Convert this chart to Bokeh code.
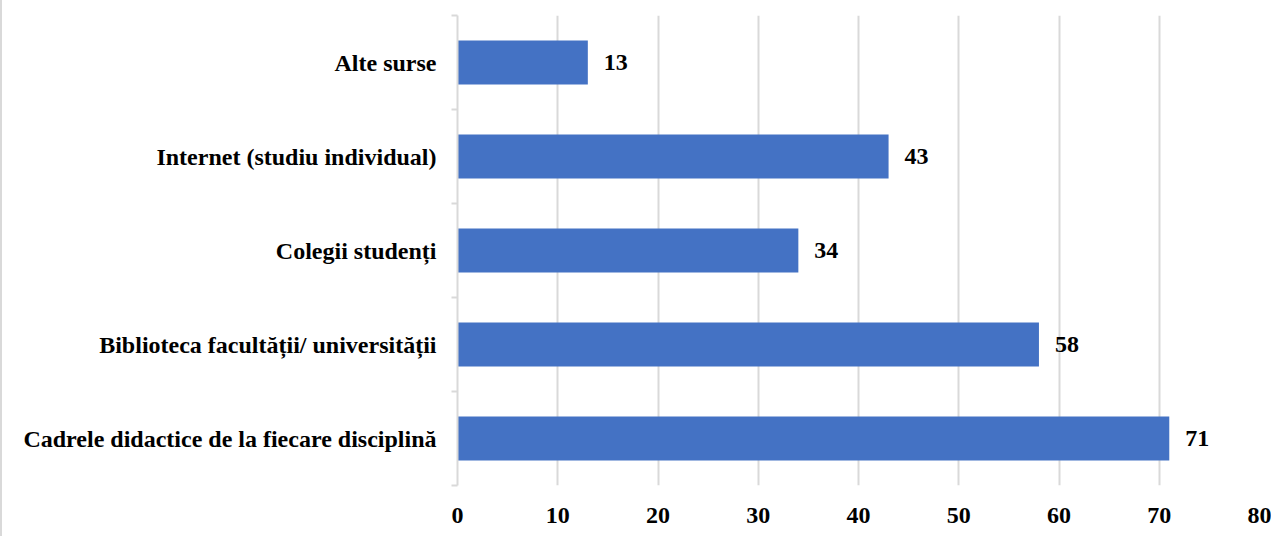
from bokeh.plotting import figure
from bokeh.models import Range1d, FixedTicker, ColumnDataSource, LabelSet
from bokeh.embed import file_html
from bokeh.resources import INLINE

categories = [
    "Cadrele didactice de la fiecare disciplină",
    "Biblioteca facultății/ universității",
    "Colegii studenți",
    "Internet (studiu individual)",
    "Alte surse",
]
values = [71, 58, 34, 43, 13]
x_ticks = [0, 10, 20, 30, 40, 50, 60, 70, 80]

FONT = "Liberation Serif"
GRID = "#d9d9d9"
BAR = "#4472C4"

ypos = [i + 0.5 for i in range(len(categories))]
src = ColumnDataSource(dict(y=ypos, v=values, lab=[str(v) for v in values]))

p = figure(width=1271, height=536, output_backend="svg", toolbar_location=None,
           x_range=Range1d(0, 80), y_range=Range1d(0, len(categories)),
           min_border_left=455, min_border_right=14, min_border_top=15, min_border_bottom=51)
p.styles = {"border-left": "2px solid #d9d9d9"}
p.outline_line_color = None
p.background_fill_color = "white"
p.border_fill_color = "white"

p.hbar(y="y", right="v", left=0, height=0.47, source=src, color=BAR, line_color=None)

labels = LabelSet(x="v", y="y", text="lab", source=src, x_offset=16, text_align="left",
                  text_baseline="middle", text_font=FONT, text_font_style="bold",
                  text_font_size="24px", text_color="black")
p.add_layout(labels)

# x axis
p.xaxis.ticker = FixedTicker(ticks=x_ticks)
p.xaxis.axis_line_color = None
p.xaxis.major_tick_line_color = None
p.xaxis.minor_tick_line_color = None
p.xaxis.major_tick_out = 0
p.xaxis.major_label_standoff = 22
p.xaxis.major_label_text_font = FONT
p.xaxis.major_label_text_font_style = "bold"
p.xaxis.major_label_text_font_size = "24px"
p.xaxis.major_label_text_color = "black"

# y axis
p.yaxis.ticker = FixedTicker(ticks=ypos, minor_ticks=list(range(len(categories) + 1)))
p.yaxis.major_label_overrides = {y: c for y, c in zip(ypos, categories)}
p.yaxis.axis_line_color = GRID
p.yaxis.axis_line_width = 2
p.yaxis.major_tick_line_color = None
p.yaxis.major_tick_out = 0
p.yaxis.major_tick_in = 0
p.yaxis.minor_tick_line_color = GRID
p.yaxis.minor_tick_line_width = 2
p.yaxis.minor_tick_out = 6
p.yaxis.minor_tick_in = 0
p.yaxis.major_label_standoff = 15
p.yaxis.major_label_text_font = FONT
p.yaxis.major_label_text_font_style = "bold"
p.yaxis.major_label_text_font_size = "24px"
p.yaxis.major_label_text_color = "black"

p.xgrid.grid_line_color = GRID
p.xgrid.grid_line_width = 2
p.ygrid.grid_line_color = None

open("out.html", "w").write(file_html(p, INLINE))
